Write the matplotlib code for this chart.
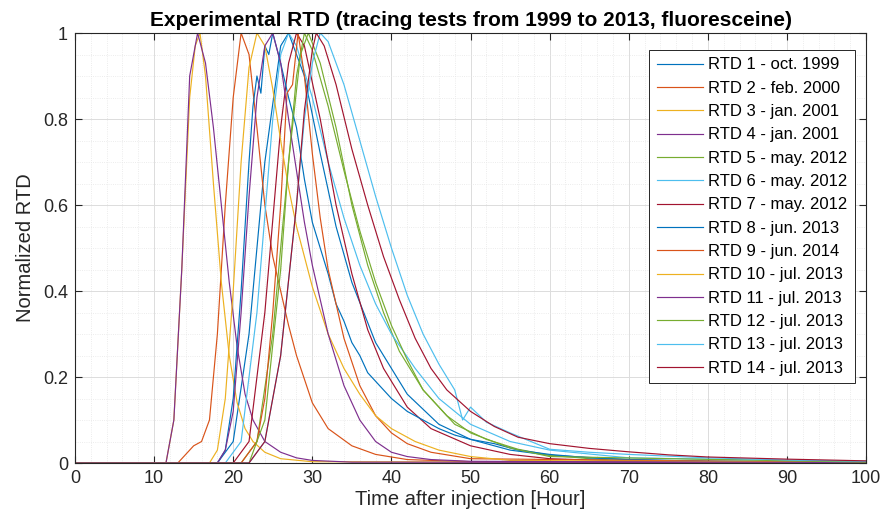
import matplotlib
matplotlib.use("Agg")
import matplotlib.pyplot as plt
from matplotlib.ticker import MultipleLocator, FuncFormatter

plt.rcParams['font.family'] = ['Liberation Sans', 'DejaVu Sans']

title = "Experimental RTD (tracing tests from 1999 to 2013, fluoresceine)"
xlabel = "Time after injection [Hour]"
ylabel = "Normalized RTD"

labels = ["RTD 1 - oct. 1999", "RTD 2 - feb. 2000", "RTD 3 - jan. 2001", "RTD 4 - jan. 2001",
          "RTD 5 - may. 2012", "RTD 6 - may. 2012", "RTD 7 - may. 2012", "RTD 8 - jun. 2013",
          "RTD 9 - jun. 2014", "RTD 10 - jul. 2013", "RTD 11 - jul. 2013", "RTD 12 - jul. 2013",
          "RTD 13 - jul. 2013", "RTD 14 - jul. 2013"]

t1 = [0, 18, 20, 22, 24, 26, 27, 29, 31, 33, 35, 38, 42, 46, 50, 55, 60, 70, 80, 100]
y1 = [0, 0, 0.05, 0.3, 0.7, 0.97, 1.0, 0.9, 0.72, 0.55, 0.42, 0.28, 0.16, 0.09, 0.055, 0.03, 0.018, 0.008, 0.004, 0.002]

t2 = [0, 13, 14, 15, 16, 17, 18, 19, 20, 21, 22, 23, 24, 25, 26, 27, 28, 30, 32, 35, 38, 42, 50, 100]
y2 = [0, 0, 0.02, 0.04, 0.05, 0.1, 0.3, 0.6, 0.85, 1.0, 0.95, 0.78, 0.6, 0.48, 0.4, 0.32, 0.25, 0.14, 0.08, 0.04, 0.02, 0.008, 0.003, 0.001]

t3 = [0, 11.5, 12.5, 13.5, 14.5, 15.2, 15.8, 16.5, 17.5, 18.5, 19.5, 20.5, 21.5, 22.5, 24, 26, 30, 100]
y3 = [0, 0, 0.1, 0.45, 0.85, 0.97, 1.0, 0.9, 0.65, 0.42, 0.25, 0.14, 0.08, 0.05, 0.025, 0.01, 0.003, 0.001]

t4 = [0, 11.5, 12.5, 13.5, 14.5, 15.5, 16.5, 17.5, 18.5, 19.5, 20.5, 21.5, 22.5, 24, 26, 28, 30, 35, 100]
y4 = [0, 0, 0.1, 0.45, 0.9, 1.0, 0.93, 0.78, 0.6, 0.42, 0.27, 0.16, 0.1, 0.05, 0.025, 0.012, 0.006, 0.002, 0.001]

t5 = [0, 21, 23, 25, 27, 28.5, 29.5, 31, 33, 35, 37, 39, 41, 44, 48, 52, 56, 60, 65, 70, 100]
y5 = [0, 0, 0.05, 0.3, 0.7, 0.95, 1.0, 0.93, 0.78, 0.6, 0.46, 0.35, 0.26, 0.17, 0.09, 0.055, 0.032, 0.018, 0.01, 0.005, 0.002]

t6 = [0, 19, 21, 23, 25, 26, 27, 28, 30, 32, 34, 36, 38, 40, 43, 46, 50, 55, 60, 70, 100]
y6 = [0, 0, 0.05, 0.35, 0.8, 0.95, 1.0, 0.97, 0.85, 0.7, 0.57, 0.46, 0.37, 0.3, 0.22, 0.15, 0.09, 0.05, 0.03, 0.012, 0.003]

t7 = [0, 20, 22, 24, 26, 27, 28, 29, 31, 33, 35, 37, 39, 42, 45, 50, 55, 60, 70, 100]
y7 = [0, 0, 0.05, 0.35, 0.78, 0.93, 1.0, 0.97, 0.8, 0.6, 0.44, 0.31, 0.22, 0.13, 0.08, 0.04, 0.02, 0.01, 0.004, 0.001]

t8 = [0, 18, 19, 20, 21, 22, 22.5, 23, 23.5, 24, 24.5, 25, 26, 27, 28, 29, 30, 31, 32, 33, 34, 35, 36, 37, 38,
      40, 42, 44, 46, 48, 50, 53, 56, 60, 65, 70, 80, 100]
y8 = [0, 0, 0.03, 0.15, 0.4, 0.7, 0.83, 0.9, 0.86, 0.97, 0.95, 1.0, 0.93, 0.85, 0.78, 0.66, 0.56, 0.5, 0.44, 0.37,
      0.33, 0.28, 0.25, 0.21, 0.19, 0.15, 0.12, 0.1, 0.08, 0.065, 0.055, 0.045, 0.03, 0.02, 0.012, 0.008, 0.004, 0.002]

t9 = [0, 21, 23, 24, 25, 26, 26.8, 27.5, 28.2, 29, 30, 31, 32, 34, 36, 38, 40, 42, 45, 50, 100]
y9 = [0, 0, 0.05, 0.15, 0.35, 0.6, 0.86, 0.88, 1.0, 0.9, 0.72, 0.57, 0.45, 0.29, 0.18, 0.11, 0.07, 0.045, 0.025, 0.01, 0.001]

t10 = [0, 17, 18, 19, 20, 21, 22, 23, 24, 25, 26, 27, 28, 30, 32, 34, 36, 38, 40, 43, 46, 50, 55, 100]
y10 = [0, 0, 0.03, 0.15, 0.4, 0.7, 0.92, 1.0, 0.97, 0.87, 0.75, 0.64, 0.55, 0.41, 0.3, 0.22, 0.16, 0.11, 0.08, 0.05, 0.03, 0.015, 0.006, 0.001]

t11 = [0, 18, 19, 20, 21, 22, 23, 24, 25, 26, 27, 28, 29, 30, 32, 34, 36, 38, 40, 42, 45, 50, 100]
y11 = [0, 0, 0.03, 0.12, 0.35, 0.62, 0.85, 0.97, 1.0, 0.93, 0.8, 0.68, 0.56, 0.46, 0.3, 0.18, 0.1, 0.05, 0.025, 0.015, 0.008, 0.004, 0.001]

t12 = [0, 22, 24, 26, 27, 28, 29, 30, 32, 34, 36, 38, 40, 42, 44, 47, 50, 55, 60, 100]
y12 = [0, 0, 0.1, 0.45, 0.7, 0.9, 1.0, 0.96, 0.83, 0.68, 0.54, 0.42, 0.32, 0.24, 0.17, 0.11, 0.07, 0.035, 0.015, 0.002]

t13 = [0, 22, 24, 26, 28, 29, 30, 31, 32, 34, 36, 38, 40, 42, 44, 46, 48, 49, 50, 52, 55, 60, 65, 70, 80, 90, 100]
y13 = [0, 0, 0.05, 0.25, 0.6, 0.8, 0.93, 1.0, 0.98, 0.88, 0.75, 0.62, 0.5, 0.39, 0.3, 0.23, 0.17, 0.1, 0.13, 0.095, 0.07, 0.032, 0.025, 0.02, 0.012, 0.007, 0.004]

t14 = [0, 22, 24, 26, 28, 29, 30, 30.5, 31.5, 33, 35, 37, 39, 41, 43, 45, 47, 50, 53, 56, 60, 65, 70, 75, 80, 90, 100]
y14 = [0, 0, 0.05, 0.25, 0.6, 0.82, 0.96, 1.0, 0.97, 0.88, 0.73, 0.6, 0.48, 0.38, 0.29, 0.22, 0.17, 0.12, 0.085, 0.06, 0.045, 0.034, 0.026, 0.019, 0.014, 0.009, 0.005]

times = [t1, t2, t3, t4, t5, t6, t7, t8, t9, t10, t11, t12, t13, t14]
values = [y1, y2, y3, y4, y5, y6, y7, y8, y9, y10, y11, y12, y13, y14]

colors = [(0, 0.447, 0.741), (0.85, 0.325, 0.098), (0.929, 0.694, 0.125), (0.494, 0.184, 0.556),
          (0.466, 0.674, 0.188), (0.301, 0.745, 0.933), (0.635, 0.078, 0.184)]

fig = plt.figure(figsize=(8.82, 5.24), dpi=100)
ax = fig.add_axes([0.085, 0.1164, 0.897, 0.8206])

for i, (t, y, lab) in enumerate(zip(times, values, labels)):
    ax.plot(t, y, color=colors[i % 7], lw=0.85, label=lab)

ax.set_xlim(0, 100)
ax.set_ylim(0, 1)
ax.xaxis.set_major_locator(MultipleLocator(10))
ax.yaxis.set_major_locator(MultipleLocator(0.2))
ax.xaxis.set_minor_locator(MultipleLocator(2))
ax.yaxis.set_minor_locator(MultipleLocator(0.05))
ax.yaxis.set_major_formatter(FuncFormatter(lambda v, p: f"{v:g}"))
ax.grid(which='major', color='#dcdcdc', lw=0.7)
ax.grid(which='minor', color='#e6e6e6', lw=0.6, ls=':')
ax.set_axisbelow(True)
ax.tick_params(which='both', direction='in', top=True, right=True, labelsize=13, colors='#262626')
ax.tick_params(which='minor', length=0)
ax.tick_params(which='major', length=5, pad=5)
for s in ax.spines.values():
    s.set_color('#262626')
    s.set_linewidth(0.8)

ax.set_title(title, fontsize=15, fontweight='bold', pad=5)
ax.set_xlabel(xlabel, fontsize=14.5, color='#262626', labelpad=2)
ax.set_ylabel(ylabel, fontsize=14.5, color='#262626', labelpad=6)

leg = ax.legend(loc='upper right', bbox_to_anchor=(0.986, 0.9605), fontsize=12, frameon=True,
                fancybox=False, edgecolor='#262626', handlelength=2.8, handletextpad=0.3,
                labelspacing=0.5, borderaxespad=0.0, borderpad=0.45, framealpha=1)
leg.get_frame().set_linewidth(0.7)

fig.savefig("out.png", dpi=100)
